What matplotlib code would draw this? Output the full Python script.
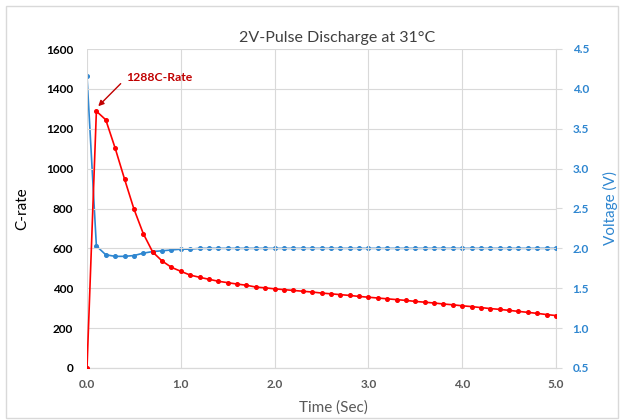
import matplotlib
matplotlib.use("Agg")
import matplotlib.pyplot as plt
from matplotlib.patches import Rectangle

plt.rcParams['font.family'] = ['Lato', 'DejaVu Sans']

time_s = [round(0.1 * i, 1) for i in range(51)]
c_rate = [0, 1288, 1245, 1103, 948, 798, 674, 582, 537, 505, 485,
          466, 455, 445, 435, 428, 421, 415, 406, 402, 397,
          393, 389, 385, 381, 376, 372, 368, 364, 359, 355,
          351, 347, 343, 339, 334, 330, 326, 321, 317, 312,
          308, 303, 298, 294, 289, 284, 279, 274, 268, 263]
voltage = [4.16, 2.03, 1.92, 1.90, 1.90, 1.91, 1.94, 1.96, 1.97, 1.98, 1.99,
           1.99, 2.0, 2.0, 2.0, 2.0, 2.0, 2.0, 2.0, 2.0, 2.0,
           2.0, 2.0, 2.0, 2.0, 2.0, 2.0, 2.0, 2.0, 2.0, 2.0,
           2.0, 2.0, 2.0, 2.0, 2.0, 2.0, 2.0, 2.0, 2.0, 2.0,
           2.0, 2.0, 2.0, 2.0, 2.0, 2.0, 2.0, 2.0, 2.0, 2.0]
x_ticks = [0, 1, 2, 3, 4, 5]
left_ticks = [0, 200, 400, 600, 800, 1000, 1200, 1400, 1600]
right_ticks = [0.5, 1.0, 1.5, 2.0, 2.5, 3.0, 3.5, 4.0, 4.5]
title = "2V-Pulse Discharge at 31°C"
peak_label = "1288C-Rate"

RED = "#FF0000"
BLUE = "#2E86D0"
DARKRED = "#C00000"
GRID = "#D9D9D9"
GRAY = "#595959"

fig = plt.figure(figsize=(6.24, 4.2), dpi=100)
fig.patches.append(Rectangle((6/624, 2/420), 612/624, 412/420, transform=fig.transFigure,
                             fill=False, edgecolor="#D9D9D9", linewidth=1))
ax = fig.add_axes([87/624, 1 - 368/420, (556 - 87)/624, (368 - 49)/420])
ax2 = ax.twinx()

ax2.plot(time_s, voltage, color=BLUE, lw=1.2, marker='o', ms=2.6, zorder=3)
ax.plot(time_s, c_rate, color=RED, lw=1.2, marker='o', ms=2.6, zorder=4)
ax.set_zorder(ax2.get_zorder() + 1)
ax.patch.set_visible(False)

ax.set_xlim(0, 5)
ax.set_ylim(0, 1600)
ax2.set_ylim(0.5, 4.5)
ax.set_xticks(x_ticks)
ax.set_xticklabels([f"{v:.1f}" for v in x_ticks])
ax.set_yticks(left_ticks)
ax2.set_yticks(right_ticks)
ax2.set_yticklabels([f"{v:.1f}" for v in right_ticks])

ax.grid(True, color=GRID, lw=0.8)
ax.set_axisbelow(True)
for a in (ax, ax2):
    for s in ('top', 'left'):
        a.spines[s].set_visible(False)
    a.spines['bottom'].set_color(GRID)
    a.spines['right'].set_color(GRID)
ax.spines['right'].set_visible(False)

ax.tick_params(axis='y', length=0, pad=10, labelsize=8.5, labelcolor='black')
ax.tick_params(axis='x', length=0, pad=8, labelsize=8.5, labelcolor=GRAY)
ax2.tick_params(axis='y', length=4, color=GRID, pad=8, labelsize=8.5, labelcolor=BLUE)
for lab in ax.get_yticklabels() + ax.get_xticklabels() + ax2.get_yticklabels():
    lab.set_fontweight('bold')

ax.set_ylabel("C-rate", fontsize=11, color='black', labelpad=12)
ax2.set_ylabel("Voltage (V)", fontsize=11, color=BLUE, labelpad=10)
ax.set_xlabel("Time (Sec)", fontsize=11, color=GRAY)
ax.xaxis.set_label_coords((333 - 87) / 469, -(408 - 368) / 319)
ax.xaxis.label.set_va('center')
fig.text(337/624, 1 - 38/420, title, fontsize=11.5, color="#404040", ha='center', va='center')

ax.annotate(peak_label, xy=(time_s[1] + 0.02, c_rate[1] + 25), xytext=(0.42, 1455),
            color=DARKRED, fontsize=8.8, fontweight='bold', ha='left', va='center',
            arrowprops=dict(arrowstyle='-|>', color=DARKRED, lw=1.0, mutation_scale=8,
                            shrinkA=3, shrinkB=0, relpos=(0, 0.5)))

fig.savefig("out.png", dpi=100)
